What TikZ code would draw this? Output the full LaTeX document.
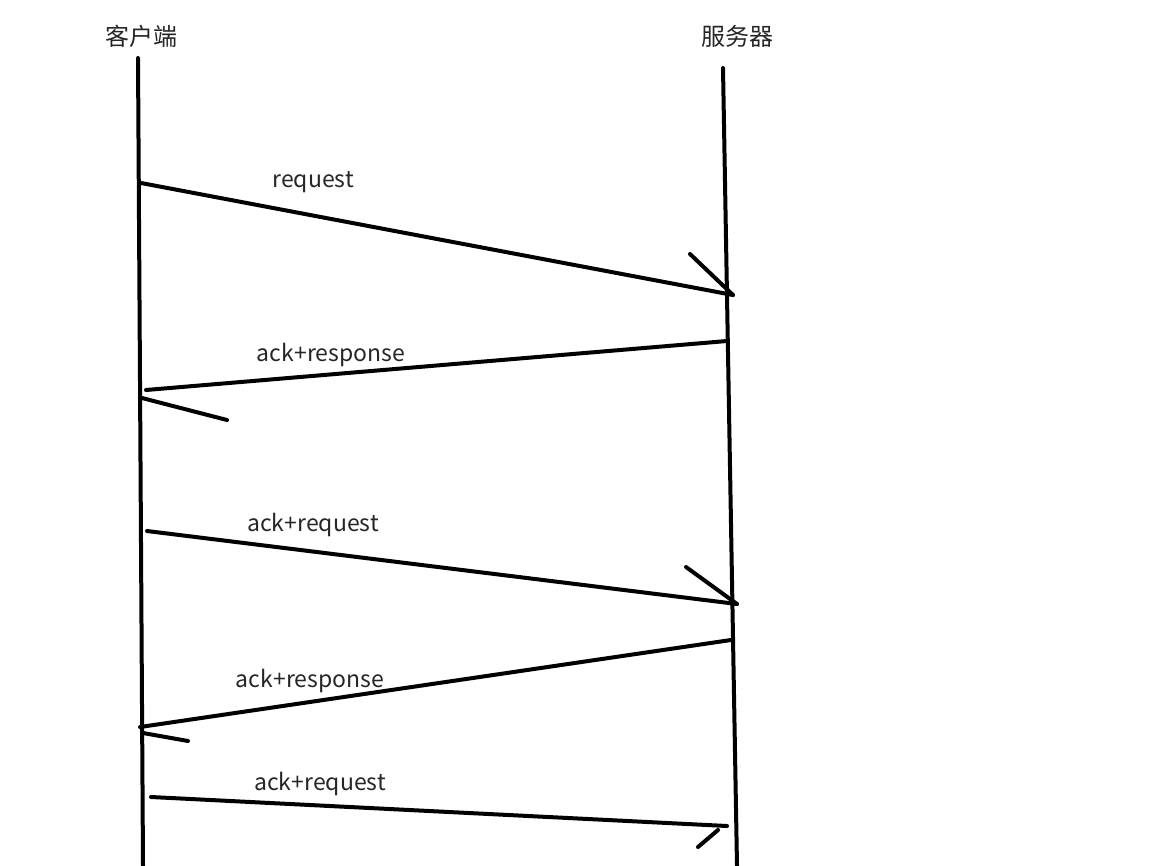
\documentclass[tikz,border=0pt]{standalone}
\usepackage{fontspec}
\setmainfont{Noto Sans CJK SC}
\tikzset{
  stroke/.style={line width=4pt, line cap=round, black},
  lbl/.style={font=\fontsize{23}{26}\selectfont, inner sep=0pt, text=black!85},
  head/.style={font=\fontsize{24}{28}\selectfont, inner sep=0pt, text=black!85}
}
\begin{document}
\begin{tikzpicture}[x=1pt,y=-1pt]
\useasboundingbox[fill=white] (0,0) rectangle (1172,865);
% headers
\node[head] (client) at (141,36) {客户端};
\node[head] (server) at (737,36) {服务器};
% lifelines
\coordinate (c0) at (138,58);
\coordinate (c1) at (143,866);
\coordinate (s0) at (723,68);
\coordinate (s1) at (737,866);
\draw[stroke] (c0) -- (c1);
\draw[stroke] (s0) -- (s1);
% message 1
\coordinate (m1a) at (141,183);
\coordinate (m1b) at (733,295);
\coordinate (h1) at (690,254);
\draw[stroke] (m1a) -- (m1b);
\draw[stroke] (h1) -- (m1b);
\node[lbl] (l1) at (313,182) {request};
% message 2
\coordinate (m2a) at (727,341);
\coordinate (m2b) at (146,390);
\coordinate (h2a) at (142,398);
\coordinate (h2b) at (227,420);
\draw[stroke] (m2a) -- (m2b);
\draw[stroke] (h2a) -- (h2b);
\node[lbl] (l2) at (331,355) {ack+response};
% message 3
\coordinate (m3a) at (147,531);
\coordinate (m3b) at (737,604);
\coordinate (h3) at (686,567);
\draw[stroke] (m3a) -- (m3b);
\draw[stroke] (h3) -- (m3b);
\node[lbl] (l3) at (313,525) {ack+request};
% message 4
\coordinate (m4a) at (731,640);
\coordinate (m4b) at (140,727);
\coordinate (h4a) at (143,733);
\coordinate (h4b) at (188,741);
\draw[stroke] (m4a) -- (m4b);
\draw[stroke] (h4a) -- (h4b);
\node[lbl] (l4) at (310,681) {ack+response};
% message 5
\coordinate (m5a) at (151,797);
\coordinate (m5b) at (727,826);
\coordinate (h5a) at (698,847);
\coordinate (h5b) at (718,830);
\draw[stroke] (m5a) -- (m5b);
\draw[stroke] (h5a) -- (h5b);
\node[lbl] (l5) at (320,784) {ack+request};
\end{tikzpicture}
\end{document}
